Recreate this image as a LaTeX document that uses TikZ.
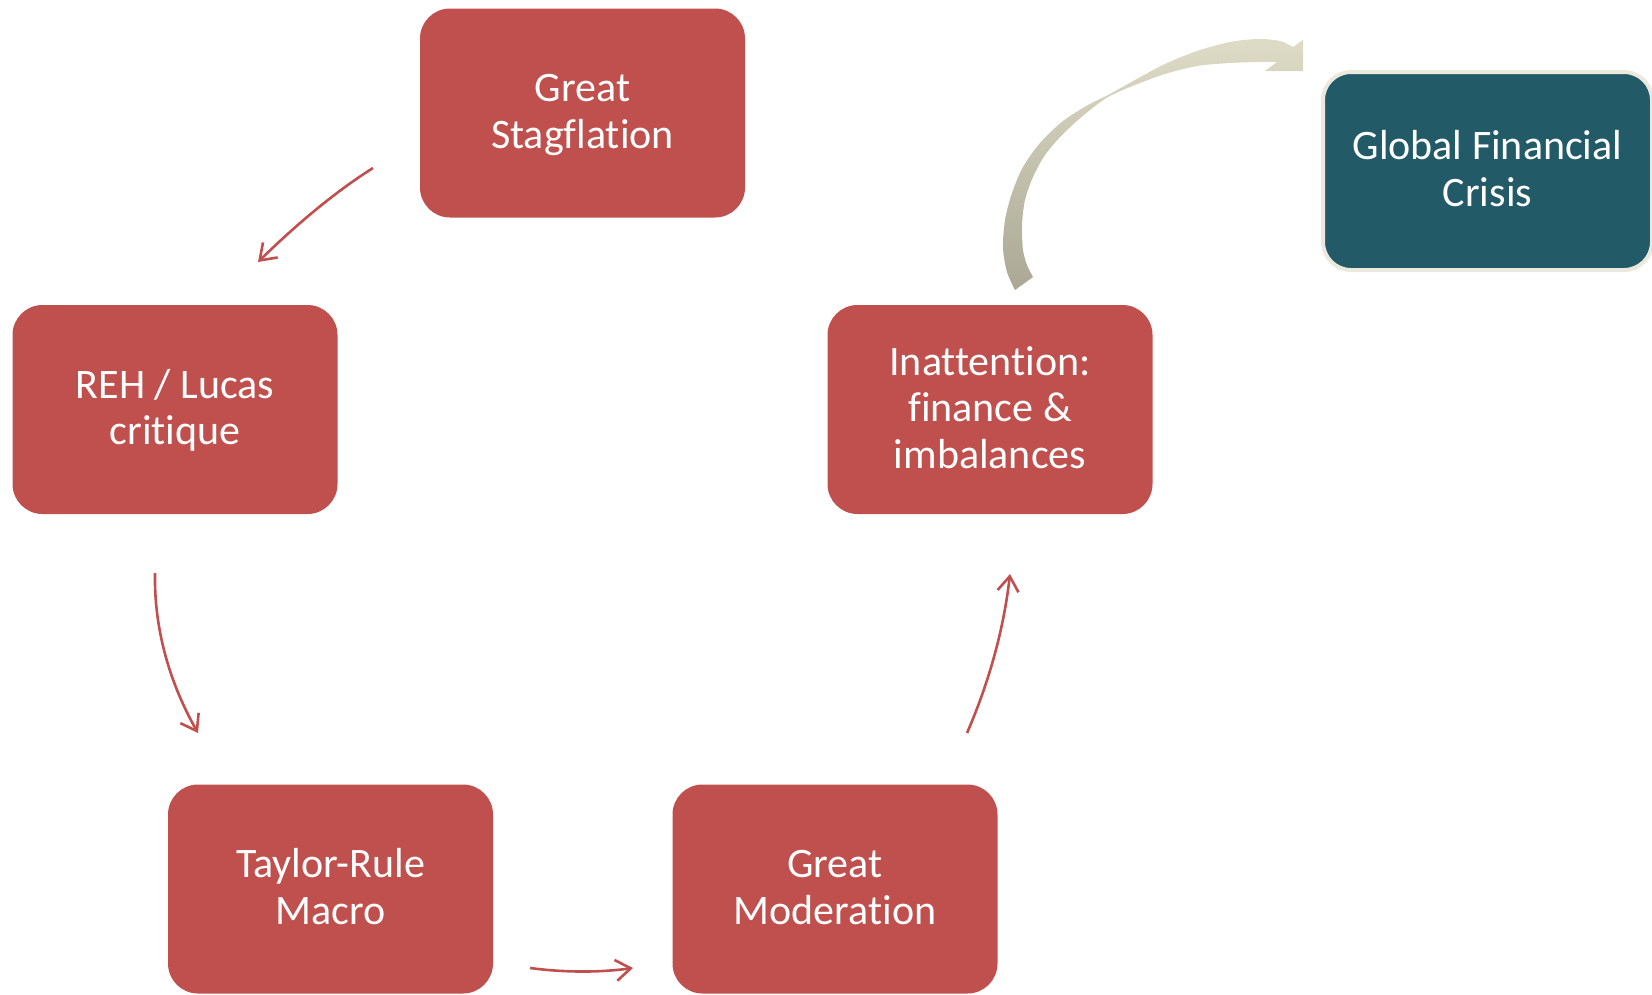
\documentclass[tikz,border=0pt]{standalone}
\usepackage{fontspec}
\setmainfont{Carlito}[Ligatures={NoCommon,NoContextual}]
\usetikzlibrary{arrows.meta}

\definecolor{boxred}{HTML}{C0504D}
\definecolor{gfcteal}{HTML}{225A68}
\definecolor{gfcrim}{HTML}{EBE9DE}
\definecolor{swoopdark}{HTML}{AAA794}
\definecolor{swoopmid}{HTML}{B4B19E}
\definecolor{swooplight}{HTML}{DEDBC6}

% struts that fix the height of the first line and the depth of the last one
\newcommand\toprule{\rule{0pt}{34pt}}
\newcommand\botrule{\rule[-10pt]{0pt}{10pt}}

\begin{document}
\begin{tikzpicture}[x=1pt,y=-1pt,
  stage/.style={rectangle, rounded corners=30pt, fill=boxred, text=white,
    minimum width=325pt, minimum height=209pt, inner sep=0pt, align=center,
    font=\fontsize{42}{46.5}\selectfont},
  crisis/.style={rectangle, rounded corners=28pt, fill=gfcteal, draw=gfcrim,
    line width=4pt, text=white, minimum width=329pt, minimum height=198pt,
    inner sep=0pt, align=center, font=\fontsize{42}{46.5}\selectfont},
  flow/.style={draw=boxred, line width=2.6pt,
    -{Straight Barb[length=15pt,width=21pt]}}
]
\useasboundingbox (0,0) rectangle (1652,994);

% the five stages of the cycle
\node[stage] (gs)  at (582.5,113)  {\toprule Great\\Stagflation\botrule};
\node[stage] (reh) at (175,409.5)  {\toprule REH / Lucas\\critique\botrule};
\node[stage] (tay) at (330.5,889)  {\toprule Taylor-Rule\\Macro\botrule};
\node[stage] (mod) at (835,889)    {\toprule Great\\Moderation\botrule};
\node[stage] (ina) at (990,409.5)  {\toprule Inattention:\\finance \&\\imbalances\botrule};

% the outcome
\node[crisis] (gfc) at (1487.5,171) {\toprule Global Financial\\Crisis\botrule};

% free ends of the thin connectors
\coordinate (gsout)  at (373,168);
\coordinate (rehin)  at (258,262);
\coordinate (rehout) at (155,573);
\coordinate (tayin)  at (198,733);
\coordinate (tayout) at (530,968);
\coordinate (modin)  at (633,968);
\coordinate (modout) at (967,733);
\coordinate (inain)  at (1010,574);

\draw[flow] (gsout)  .. controls (338,190) and (300,221) .. (rehin);
\draw[flow] (rehout) .. controls (154,626) and (168,680) .. (tayin);
\draw[flow] (tayout) .. controls (564,972.5) and (598.5,972.7) .. (modin);
\draw[flow] (modout) .. controls (990,680) and (1004,627) .. (inain);

% broad curved arrow rising from the last stage towards the crisis
\shade[top color=swooplight, middle color=swoopmid, bottom color=swoopdark]
  plot[smooth] coordinates {(1015,290) (1007,272) (1003,248) (1005,220)
    (1012,193) (1023,167) (1040,143) (1063,121) (1088,105) (1108,95)
    (1135,80) (1165,64) (1197,51) (1230,42) (1258,39) (1280,41) (1293,47)}
  -- (1303,40) -- (1303,71) -- (1265,71) -- (1277,62)
  -- plot[smooth] coordinates {(1277,62) (1258,62) (1230,63) (1197,66)
    (1165,74) (1135,85) (1108,97) (1085,114) (1062,135) (1045,155)
    (1033,177) (1025,200) (1022,225) (1023,250) (1027,265) (1033,277)}
  -- cycle;
\end{tikzpicture}
\end{document}
